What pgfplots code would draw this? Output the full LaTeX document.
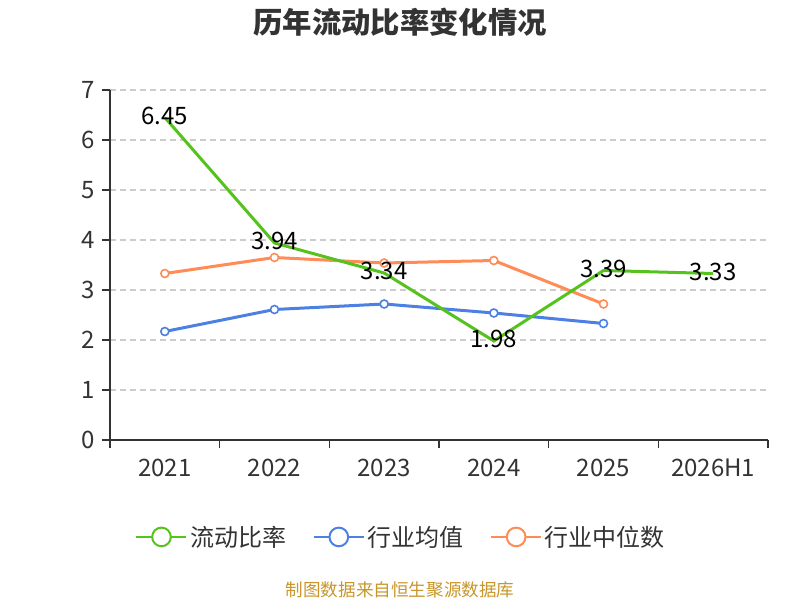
\documentclass[border=0pt]{standalone}
\usepackage{pgfplots}
\pgfplotsset{compat=1.18}
\usepackage{fontspec}
\setmainfont{Noto Sans CJK SC}
\definecolor{cgreen}{RGB}{86,194,30}
\definecolor{cblue}{RGB}{76,128,226}
\definecolor{corange}{RGB}{255,140,86}
\definecolor{ctext}{RGB}{51,51,51}
\definecolor{cgrid}{RGB}{204,204,204}
\definecolor{cfoot}{RGB}{200,150,42}
\begin{document}
\begin{tikzpicture}[x=1pt,y=1pt]
\path[use as bounding box] (0,0) rectangle (600,450);
\node[font=\fontsize{22}{24}\selectfont\bfseries, text=ctext] at (300,433) {历年流动比率变化情况};
\node[font=\fontsize{13.2}{15}\selectfont, text=cfoot] at (300,7.5) {制图数据来自恒生聚源数据库};
\begin{axis}[
  at={(82.5pt,120pt)}, anchor=south west,
  scale only axis, width=493.5pt, height=262.5pt,
  xmin=-0.5, xmax=5.5, ymin=0, ymax=7,
  axis x line*=bottom, axis y line*=left,
  axis line style={ctext, line width=1pt},
  xtick={0,...,5},
  xticklabels={2021,2022,2023,2024,2025,2026H1},
  minor xtick={-0.5,0.5,...,5.5},
  ytick={0,...,7},
  tick align=outside,
  major tick length=6pt, minor tick length=6pt,
  x tick style={draw=none},
  minor x tick style={draw=ctext, line width=1pt},
  y tick style={ctext, line width=1pt},
  ymajorgrids,
  major grid style={cgrid, dash pattern=on 4.5pt off 3pt, line width=0.9pt},
  tick label style={font=\fontsize{18}{20}\selectfont, text=ctext},
  /pgf/number format/assume math mode=true,
  xticklabel style={yshift=-5pt},
  yticklabel style={xshift=-2pt},
  clip=false,
  legend style={draw=none, fill=none, at={(0.443,-0.277)}, anchor=center,
     legend columns=3, font=\fontsize{18}{20}\selectfont, text=ctext,
     /tikz/every even column/.append style={column sep=18pt}},
  legend image code/.code={\draw[#1, mark repeat=2, mark phase=2] plot coordinates {(0pt,0pt) (18.75pt,0pt) (37.5pt,0pt)};},
]
\addlegendimage{cgreen, line width=1.5pt, mark=*, mark size=7pt, mark options={fill=white, line width=1.5pt}}
\addlegendentry{流动比率}
\addlegendimage{cblue, line width=1.5pt, mark=*, mark size=7pt, mark options={fill=white, line width=1.5pt}}
\addlegendentry{行业均值}
\addlegendimage{corange, line width=1.5pt, mark=*, mark size=7pt, mark options={fill=white, line width=1.5pt}}
\addlegendentry{行业中位数}

\addplot[forget plot, cblue, line width=2.25pt, mark=*, mark size=3pt, mark options={fill=white, line width=1.2pt}]
 coordinates {(0,2.17) (1,2.61) (2,2.72) (3,2.54) (4,2.33)};
\addplot[forget plot, corange, line width=2.25pt, mark=*, mark size=3pt, mark options={fill=white, line width=1.2pt}]
 coordinates {(0,3.33) (1,3.65) (2,3.54) (3,3.59) (4,2.72)};
\addplot[forget plot, cgreen, line width=2.25pt,
  nodes near coords, point meta=explicit symbolic,
  every node near coord/.append style={anchor=center, yshift=1.5pt, text=black, font=\fontsize{18}{20}\selectfont}]
 coordinates {(0,6.45) [6.45] (1,3.94) [3.94] (2,3.34) [3.34] (3,1.98) [1.98] (4,3.39) [3.39] (5,3.33) [3.33]};
\end{axis}
\end{tikzpicture}
\end{document}
